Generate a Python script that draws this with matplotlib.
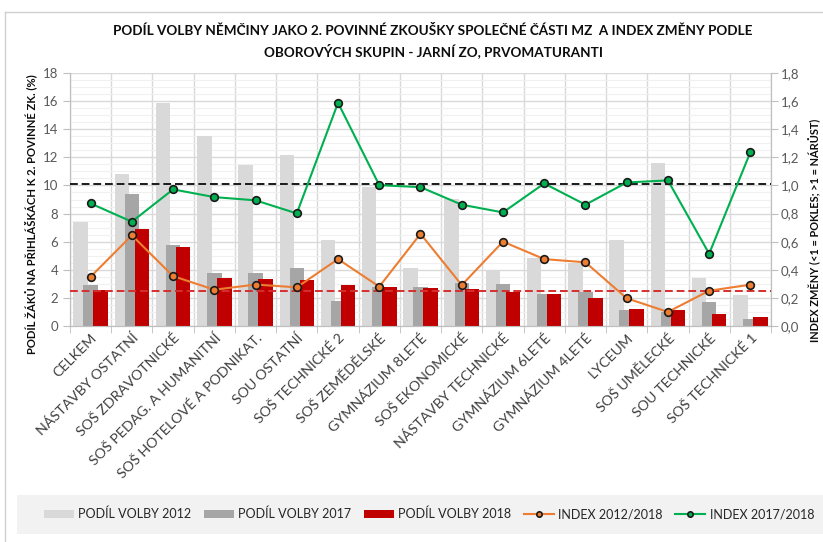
import matplotlib
matplotlib.use("Agg")
import matplotlib.pyplot as plt
import numpy as np
from matplotlib.ticker import MultipleLocator, FuncFormatter
from matplotlib.lines import Line2D
from matplotlib.patches import Rectangle

plt.rcParams['font.family'] = ['Lato', 'DejaVu Sans']

categories = ["CELKEM", "NÁSTAVBY OSTATNÍ", "SOŠ ZDRAVOTNICKÉ", "SOŠ PEDAG. A HUMANITNÍ",
              "SOŠ HOTELOVÉ A PODNIKAT.", "SOU OSTATNÍ", "SOŠ TECHNICKÉ 2", "SOŠ ZEMĚDĚLSKÉ",
              "GYMNÁZIUM 8LETÉ", "SOŠ EKONOMICKÉ", "NÁSTAVBY TECHNICKÉ", "GYMNÁZIUM 6LETÉ",
              "GYMNÁZIUM 4LETÉ", "LYCEUM", "SOŠ UMĚLECKÉ", "SOU TECHNICKÉ", "SOŠ TECHNICKÉ 1"]

podil_2012 = [7.37, 10.8, 15.88, 13.5, 11.45, 12.16, 6.11, 9.87, 4.13, 9.05, 4.0, 4.83, 4.5, 6.11, 11.61, 3.44, 2.23]
podil_2017 = [2.95, 9.38, 5.77, 3.75, 3.75, 4.13, 1.79, 2.74, 2.74, 3.06, 2.99, 2.25, 2.42, 1.14, 0.97, 1.68, 0.50]
podil_2018 = [2.56, 6.92, 5.62, 3.44, 3.33, 3.27, 2.89, 2.74, 2.67, 2.63, 2.44, 2.30, 2.01, 1.18, 1.14, 0.88, 0.66]
index_2012_2018 = [0.35, 0.645, 0.355, 0.258, 0.295, 0.275, 0.476, 0.28, 0.656, 0.291, 0.600, 0.476, 0.453, 0.197, 0.10, 0.251, 0.294]
index_2017_2018 = [0.872, 0.742, 0.972, 0.917, 0.894, 0.801, 1.588, 1.002, 0.988, 0.863, 0.808, 1.014, 0.863, 1.021, 1.036, 0.514, 1.237]

ref_index = 1.01      # black dashed reference (right axis)
ref_podil = 0.25      # red dashed reference (right axis)

title = ("PODÍL VOLBY NĚMČINY JAKO 2. POVINNÉ ZKOUŠKY SPOLEČNÉ ČÁSTI MZ  A INDEX ZMĚNY PODLE\n"
         "OBOROVÝCH SKUPIN - JARNÍ ZO, PRVOMATURANTI")
ylabel_left = "PODÍL ŽÁKŮ NA PŘIHLÁŠKÁCH K 2. POVINNÉ ZK. (%)"
ylabel_right = "INDEX ZMĚNY (<1 = POKLES; >1 = NÁRŮST)"

W, H = 823, 542
fig = plt.figure(figsize=(W / 100, H / 100), dpi=100)
ax = fig.add_axes([70 / W, 1 - 326 / H, (771 - 70) / W, (326 - 73) / H])
ax2 = ax.twinx()

x = np.arange(len(categories))
bw = 0.35
off = 0.243
tick_col = '#595959'
grid_col = '#d9d9d9'

ax.set_axisbelow(True)
ax.bar(x - off, podil_2012, bw, color='#d9d9d9', zorder=2, label='PODÍL VOLBY 2012')
ax.bar(x, podil_2017, bw, color='#a6a6a6', zorder=3, label='PODÍL VOLBY 2017')
ax.bar(x + off, podil_2018, bw, color='#c00000', zorder=4, label='PODÍL VOLBY 2018')

ax.set_xlim(-0.5, len(categories) - 0.5)
ax.set_ylim(0, 18)
ax.yaxis.set_major_locator(MultipleLocator(2))
ax.yaxis.set_minor_locator(MultipleLocator(0.5))
ax.grid(axis='y', which='major', color=grid_col, lw=1, zorder=0)
ax.grid(axis='y', which='minor', color='#f0f0f0', lw=0.8, zorder=0)
for b in np.arange(-0.5, len(categories), 1.0):
    ax.axvline(b, color=grid_col, lw=1, zorder=0.5)

ax.set_xticks(x)
ax.set_xticklabels(categories, rotation=45, ha='right', rotation_mode='anchor',
                   fontsize=10.3, color='#404040')
ax.tick_params(axis='x', length=0, pad=4)
ax.set_xticks(np.arange(-0.5, len(categories), 1.0), minor=True)
ax.tick_params(axis='x', which='minor', length=5, color='#bfbfbf')
ax.tick_params(axis='y', which='major', labelsize=9.5, labelcolor=tick_col, color='#bfbfbf', length=5)
ax.tick_params(axis='y', which='minor', length=0)

ax2.set_ylim(0, 1.8)
ax2.yaxis.set_major_locator(MultipleLocator(0.2))
ax2.yaxis.set_major_formatter(FuncFormatter(lambda v, p: f"{v:.1f}".replace('.', ',')))
ax2.tick_params(axis='y', labelsize=9.5, labelcolor=tick_col, color='#bfbfbf', length=5, pad=2)

ax2.axhline(ref_index, color='#1a1a1a', lw=1.4, ls=(0, (4, 2)), zorder=5)
ax2.axhline(ref_podil, color='#d62e2e', lw=1.4, ls=(0, (4, 2)), zorder=5)
ax2.plot(x, index_2012_2018, color='#ed7d31', lw=1.5, marker='o', ms=5.5,
         mfc='#ed7d31', mec='#1a1a1a', mew=1.2, zorder=6, label='INDEX 2012/2018')
ax2.plot(x, index_2017_2018, color='#00b050', lw=1.5, marker='o', ms=5.5,
         mfc='#00b050', mec='#1a1a1a', mew=1.2, zorder=6, label='INDEX 2017/2018')

for a in (ax, ax2):
    for s in a.spines.values():
        s.set_color('#bfbfbf')
    a.spines['top'].set_visible(False)

fig.text(433 / W, 1 - 41 / H, title, ha='center', va='center', fontsize=9.7,
         fontweight='bold', linespacing=1.45, color='#0d0d0d')
fig.text(31 / W, 1 - 214 / H, ylabel_left, rotation=90, ha='center', va='center',
         fontsize=8.1, fontweight='bold', color='#0d0d0d')
fig.text(815 / W, 1 - 230 / H, ylabel_right, rotation=90, ha='center', va='center',
         fontsize=7.9, fontweight='bold', color='#0d0d0d')

# legend background band
fig.add_artist(Rectangle((17 / W, 1 - 534 / H), 1.0, 39 / H, transform=fig.transFigure,
                         facecolor='#f2f2f2', edgecolor='none', zorder=0))

h1, l1 = ax.get_legend_handles_labels()
h2, l2 = ax2.get_legend_handles_labels()
leg = fig.legend(h1 + h2, l1 + l2, loc='center', bbox_to_anchor=(429 / W, 1 - 514 / H),
                 ncol=5, frameon=False, fontsize=9, handlelength=2.4, columnspacing=1.0,
                 handletextpad=0.35, markerscale=0.7)
for t in leg.get_texts():
    t.set_color('#262626')

fig.add_artist(Line2D([5 / W, 5 / W], [0, 1 - 12 / H], color='#d0d0d0', lw=1, transform=fig.transFigure))
fig.add_artist(Line2D([5 / W, 1], [1 - 12 / H, 1 - 12 / H], color='#d0d0d0', lw=1, transform=fig.transFigure))

fig.savefig('out.png', dpi=100)
